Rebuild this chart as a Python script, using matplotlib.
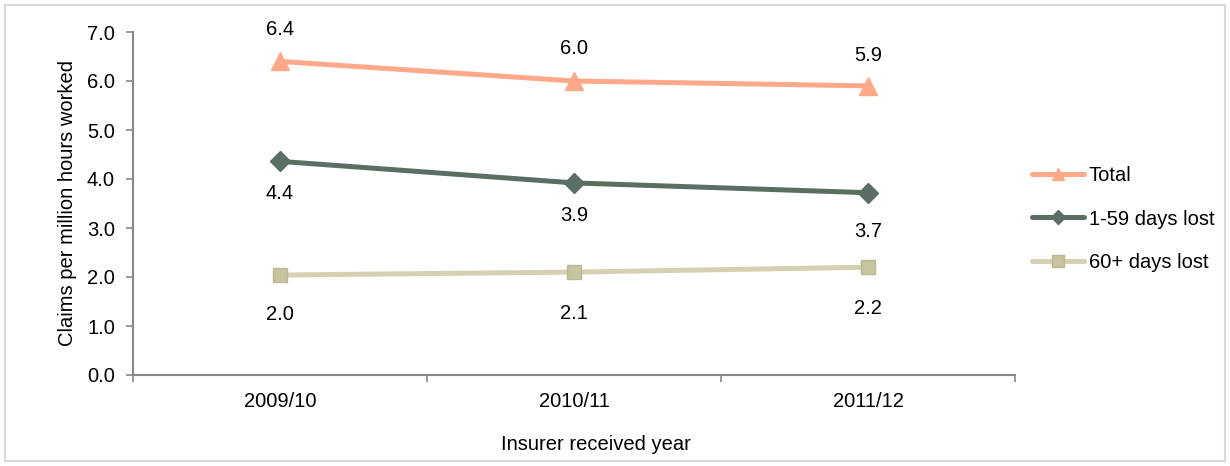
import matplotlib
matplotlib.use("Agg")
import matplotlib.pyplot as plt
from matplotlib.patches import Rectangle

plt.rcParams['font.family'] = ['Liberation Sans', 'DejaVu Sans']

categories = ["2009/10", "2010/11", "2011/12"]
total = [6.4, 6.0, 5.9]
days_1_59 = [4.36, 3.92, 3.72]
days_60_plus = [2.04, 2.1, 2.2]
series_names = ["Total", "1-59 days lost", "60+ days lost"]
yticks = [0.0, 1.0, 2.0, 3.0, 4.0, 5.0, 6.0, 7.0]

FS = 14.5

fig = plt.figure(figsize=(12.3, 4.66), dpi=100)
ax = fig.add_axes([133/1230, 1-375/466, (1015-133)/1230, (375-32)/466])

fig.patches.append(Rectangle((5/1230, 5/466), 1220/1230, 456/466, transform=fig.transFigure,
                             fill=False, edgecolor="#DADADA", linewidth=1.5))

x = list(range(len(categories)))
c_total = "#FFA98A"
c_mid = "#5B6E63"
c_low = "#D5D0B2"

ax.plot(x, total, color=c_total, lw=3.6, marker="^", ms=13, mfc=c_total, mec=c_total,
        label=series_names[0], solid_capstyle="round")
ax.plot(x, days_1_59, color=c_mid, lw=3.6, marker="D", ms=10.5, mfc=c_mid, mec=c_mid,
        label=series_names[1], solid_capstyle="round")
ax.plot(x, days_60_plus, color=c_low, lw=3.6, marker="s", ms=9.7, mfc="#C9C4A0", mec="#BDB893",
        mew=1.0, label=series_names[2], solid_capstyle="round")

# label offsets (pixels) above/below each marker
off_total = [32, 32, 30]
off_mid = [-32, -33, -39]
off_low = [-39, -41, -41]

for xi, v, o in zip(x, total, off_total):
    ax.annotate(f"{v:.1f}", (xi, v), xytext=(0, o), textcoords="offset pixels",
                ha="center", va="center", fontsize=FS)
for xi, v, o in zip(x, days_1_59, off_mid):
    ax.annotate(f"{v:.1f}", (xi, v), xytext=(0, o), textcoords="offset pixels",
                ha="center", va="center", fontsize=FS)
for xi, v, o in zip(x, days_60_plus, off_low):
    ax.annotate(f"{v:.1f}", (xi, v), xytext=(0, o), textcoords="offset pixels",
                ha="center", va="center", fontsize=FS)

ax.set_xlim(-0.5, len(categories) - 0.5)
ax.set_ylim(0, 7)
ax.set_yticks(yticks)
ax.set_yticklabels([f"{t:.1f}" for t in yticks], fontsize=FS)
ax.set_xticks(x)
ax.set_xticklabels(categories, fontsize=FS)
ax.tick_params(axis="x", length=0, pad=12)
ax.set_xticks([i - 0.5 for i in range(len(categories) + 1)], minor=True)
ax.tick_params(axis="x", which="minor", length=5, color="#888888", width=1.2)
ax.tick_params(axis="y", length=5, color="#888888", width=1.2, pad=8)

for s in ["top", "right"]:
    ax.spines[s].set_visible(False)
for s in ["left", "bottom"]:
    ax.spines[s].set_color("#888888")
    ax.spines[s].set_linewidth(1.5)

ax.set_ylabel("Claims per million hours worked", fontsize=FS, labelpad=7)
fig.text(596/1230, 1-445/466, "Insurer received year", ha="center", va="center", fontsize=FS)

leg = fig.legend(loc="center left", bbox_to_anchor=(1014/1230, 1-219/466), frameon=False,
                 fontsize=FS, handlelength=2.6, handletextpad=0.2, labelspacing=1.2)
for h, ms in zip(leg.legend_handles, [8, 7, 8.5]):
    h.set_markersize(ms)

fig.savefig("out.png", dpi=100)
